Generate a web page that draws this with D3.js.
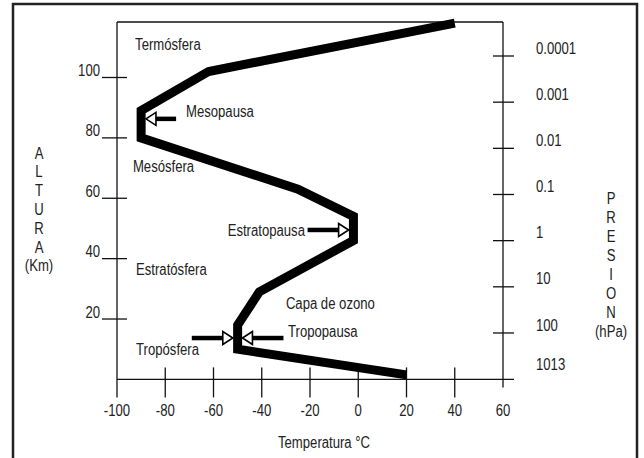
<!DOCTYPE html>
<meta charset="utf-8">
<script src="https://cdn.jsdelivr.net/npm/d3@7"></script>
<style>
  body { margin: 0; background: #fff; }
  svg text {
    font-family: 'Liberation Sans', Arial, sans-serif;
    font-size: 16px;
    fill: #222;
  }
</style>
<div id="chart"></div>
<script>

// perfil de temperatura: temperatura (°C) vs altura (km)
var temps = [20, -50, -50, -41, -2, -2, -25, -90, -90, -62, 40];
var alts  = [1.5, 10, 18, 29, 46, 54, 63, 80, 89, 102, 118];

var tempTicks = [-100, -80, -60, -40, -20, 0, 20, 40, 60];
var altTicks  = [20, 40, 60, 80, 100];
var presTicks  = [0.0001, 0.001, 0.01, 0.1, 1, 10, 100, 1013];
var presLabels = ["0.0001", "0.001", "0.01", "0.1", "1", "10", "100", "1013"];

// nombres de capas y su posicion (temp, altura)
var layerNames = ["Termósfera", "Mesopausa", "Mesósfera", "Estratopausa", "Estratósfera", "Capa de ozono", "Tropopausa", "Tropósfera"];
var layerTemps = [-92.5, -71.4, -93.4, -22.1, -92.1, -30, -29.1, -92.1];
var layerAlts  = [111, 88.9, 70.7, 49.5, 36.6, 25.3, 16, 10];
var layerAnchor = ["start", "start", "start", "end", "start", "start", "start", "start"];

// flechas: punta, cola, altura
var arrowTip  = [-88, -4, -52, -48];
var arrowTail = [-75.5, -21, -69, -31];
var arrowAlt  = [86.3, 49.5, 13.7, 13.7];

var W = 644, H = 458;
var NARROW = 0.82;   // imitar Arial Narrow

var svg = d3.select("#chart")
  .append("svg")
    .attr("width", W)
    .attr("height", H);

var x = d3.scaleLinear().domain([-100, 60]).range([117, 503]);
var y = d3.scaleLinear().domain([0, 100]).range([379.4, 77.5]);
var p = d3.scaleLog().domain([0.0001, 1013]).range([56, 379.4]);

var x0 = x(-100), x1 = x(60), yb = y(0), yt = 22;

function at(px, py) {
  return "translate(" + px + "," + py + ") scale(" + NARROW + ",1)";
}

// marco exterior
svg.append("rect")
  .attr("x", 13).attr("y", 4)
  .attr("width", 624).attr("height", 470)
  .attr("fill", "none")
  .attr("stroke", "#222")
  .attr("stroke-width", 2.5);

var axes = svg.append("g").attr("stroke", "#111").attr("stroke-width", 1.3);

// ejes
axes.append("line").attr("x1", x0).attr("x2", x0).attr("y1", yt).attr("y2", yb + 18);
axes.append("line").attr("x1", x0).attr("x2", x1).attr("y1", yt).attr("y2", yt);
axes.append("line").attr("x1", x1).attr("x2", x1).attr("y1", yt).attr("y2", yb + 8);
axes.append("line").attr("x1", x0).attr("x2", x1 + 11).attr("y1", yb).attr("y2", yb);

// ticks de temperatura
axes.selectAll(".xt")
  .data(tempTicks.filter(function(d) { return d > -100 && d < 60; }))
  .enter().append("line")
    .attr("x1", function(d) { return x(d); })
    .attr("x2", function(d) { return x(d); })
    .attr("y1", yb - 12)
    .attr("y2", yb + 18);

svg.selectAll(".xl")
  .data(tempTicks)
  .enter().append("text")
    .attr("transform", function(d) { return at(x(d), 410); })
    .attr("dy", "0.35em")
    .attr("text-anchor", "middle")
    .text(function(d) { return d; });

// ticks de altura
axes.selectAll(".yt")
  .data(altTicks)
  .enter().append("line")
    .attr("x1", x0 - 15)
    .attr("x2", x0 + 10)
    .attr("y1", function(d) { return y(d); })
    .attr("y2", function(d) { return y(d); });

svg.selectAll(".yl")
  .data(altTicks)
  .enter().append("text")
    .attr("transform", function(d) { return at(100, y(d) - 7); })
    .attr("dy", "0.35em")
    .attr("text-anchor", "end")
    .text(function(d) { return d; });

// ticks de presion
axes.selectAll(".pt")
  .data(presTicks.filter(function(d) { return d < 1000; }))
  .enter().append("line")
    .attr("x1", x1 - 10)
    .attr("x2", x1 + 11)
    .attr("y1", function(d) { return p(d); })
    .attr("y2", function(d) { return p(d); });

svg.selectAll(".pl")
  .data(presTicks)
  .enter().append("text")
    .attr("transform", function(d, i) { return at(536, p(d) - (i == presTicks.length - 1 ? 15 : 8)); })
    .attr("dy", "0.35em")
    .text(function(d, i) { return presLabels[i]; });

// perfil
var line = d3.line()
  .x(function(d) { return x(d[0]); })
  .y(function(d) { return y(d[1]); });

svg.append("path")
  .datum(d3.zip(temps, alts))
  .attr("d", line)
  .attr("fill", "none")
  .attr("stroke", "#000")
  .attr("stroke-width", 9)
  .attr("stroke-linejoin", "miter")
  .attr("stroke-miterlimit", 10);

// flechas
arrowTip.forEach(function(t, i) {
  var tx = x(t), ax = x(arrowTail[i]), ay = y(arrowAlt[i]);
  var dir = ax > tx ? 1 : -1;
  var bx = tx + dir * 10;
  svg.append("line")
    .attr("x1", ax).attr("x2", bx)
    .attr("y1", ay).attr("y2", ay)
    .attr("stroke", "#000")
    .attr("stroke-width", 4.5);
  svg.append("path")
    .attr("d", "M" + tx + "," + ay + "L" + bx + "," + (ay - 6.5) + "L" + bx + "," + (ay + 6.5) + "Z")
    .attr("fill", "#fff")
    .attr("stroke", "#000")
    .attr("stroke-width", 1.6);
});

// nombres de capas
svg.selectAll(".layer")
  .data(layerNames)
  .enter().append("text")
    .attr("transform", function(d, i) { return at(x(layerTemps[i]), y(layerAlts[i])); })
    .attr("dy", "0.35em")
    .attr("text-anchor", function(d, i) { return layerAnchor[i]; })
    .text(function(d) { return d; });

// titulos de ejes
svg.append("text")
  .attr("transform", at(324, 442))
  .attr("dy", "0.35em")
  .attr("text-anchor", "middle")
  .text("Temperatura °C");

var altura = ["A", "L", "T", "U", "R", "A", "(Km)"];
svg.selectAll(".alt")
  .data(altura)
  .enter().append("text")
    .attr("transform", function(d, i) { return at(39, 153 + i * 18.8); })
    .attr("dy", "0.35em")
    .attr("text-anchor", "middle")
    .text(function(d) { return d; });

var presion = ["P", "R", "E", "S", "I", "O", "N", "(hPa)"];
svg.selectAll(".pres")
  .data(presion)
  .enter().append("text")
    .attr("transform", function(d, i) { return at(611, 198 + i * 19.1); })
    .attr("dy", "0.35em")
    .attr("text-anchor", "middle")
    .text(function(d) { return d; });

</script>
